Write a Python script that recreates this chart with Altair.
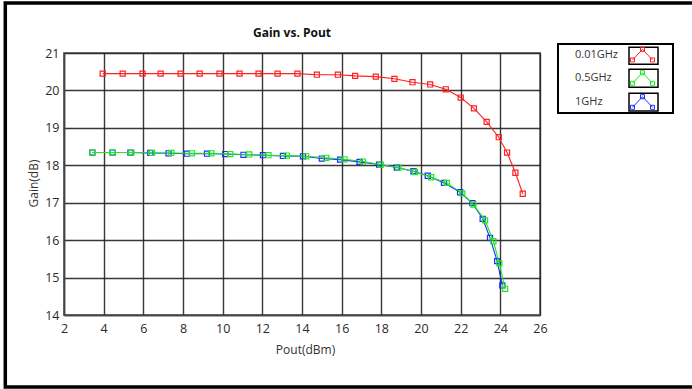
import altair as alt
import pandas as pd

# Series definitions
series_names = ["0.01GHz", "0.5GHz", "1GHz"]
series_colors = ["#ff2020", "#22e622", "#1a2eff"]

# 0.01 GHz sweep: output power (dBm) and gain (dB)
pout_001 = [3.95, 4.96, 5.96, 6.87, 7.88, 8.84, 9.84, 10.85, 11.81, 12.77, 13.77,
            14.75, 15.81, 16.68, 17.72, 18.66, 19.57, 20.46, 21.25, 22.00, 22.67,
            23.31, 23.92, 24.34, 24.76, 25.13]
gain_001 = [20.45, 20.45, 20.45, 20.45, 20.45, 20.45, 20.45, 20.45, 20.45, 20.45, 20.45,
            20.42, 20.42, 20.39, 20.37, 20.31, 20.22, 20.16, 20.03, 19.81, 19.52,
            19.16, 18.75, 18.34, 17.80, 17.24]

# 0.5 GHz sweep
pout_05 = [3.43, 4.45, 5.40, 6.44, 7.41, 8.45, 9.43, 10.38, 11.34, 12.31, 13.24,
           14.21, 15.22, 16.14, 17.07, 17.97, 18.86, 19.70, 20.51, 21.30, 22.08,
           22.64, 23.23, 23.65, 23.95, 24.24]
gain_05 = [18.34, 18.34, 18.34, 18.33, 18.33, 18.32, 18.32, 18.30, 18.29, 18.27, 18.26,
           18.24, 18.20, 18.16, 18.10, 18.02, 17.94, 17.82, 17.68, 17.53, 17.25,
           16.95, 16.53, 15.97, 15.38, 14.70]

# 1 GHz sweep
pout_1 = [3.43, 4.45, 5.35, 6.35, 7.27, 8.20, 9.21, 10.13, 11.05, 12.03, 13.04,
          14.05, 15.00, 15.92, 16.90, 17.89, 18.78, 19.62, 20.34, 21.16, 21.97,
          22.59, 23.11, 23.48, 23.84, 24.10]
gain_1 = [18.34, 18.34, 18.34, 18.33, 18.32, 18.31, 18.31, 18.30, 18.28, 18.27, 18.25,
          18.24, 18.18, 18.15, 18.09, 18.02, 17.94, 17.84, 17.72, 17.53, 17.28,
          16.99, 16.57, 16.06, 15.44, 14.79]

x_ticks = [2, 4, 6, 8, 10, 12, 14, 16, 18, 20, 22, 24, 26]
y_ticks = [14, 15, 16, 17, 18, 19, 20, 21]

rows = []
for name, xs, ys in [("0.01GHz", pout_001, gain_001),
                     ("0.5GHz", pout_05, gain_05),
                     ("1GHz", pout_1, gain_1)]:
    for i, (xv, yv) in enumerate(zip(xs, ys)):
        rows.append({"series": name, "idx": i, "pout": xv, "gain": yv})
df = pd.DataFrame(rows)
legend_df = pd.DataFrame({"series": series_names})
one = pd.DataFrame({"k": [0]})

W, H = 476, 262
FONT = "Open Sans"

color = alt.Color("series:N",
                  scale=alt.Scale(domain=series_names, range=series_colors),
                  legend=None)

x_axis = alt.Axis(values=x_ticks, title="Pout(dBm)", format="d",
                  labelOverlap=False, labelFlush=False,
                  titleX=241, titleY=34, titleBaseline="middle",
                  titleAlign="center", labelPadding=7)
y_axis = alt.Axis(values=y_ticks, title="Gain(dB)", format="d",
                  labelOverlap=False, labelFlush=False,
                  titleX=-31, titleY=130, titleBaseline="middle",
                  titleAlign="center", titleAngle=-90, labelPadding=5)
x_enc = alt.X("pout:Q", scale=alt.Scale(domain=[2, 26], nice=False, zero=False),
              axis=x_axis)
y_enc = alt.Y("gain:Q", scale=alt.Scale(domain=[14, 21], nice=False, zero=False),
              axis=y_axis)

layers = []
# Curves, drawn red first, then blue, then green on top
for name in ["0.01GHz", "1GHz", "0.5GHz"]:
    base = alt.Chart(df).transform_filter(alt.datum.series == name)
    line = base.mark_line(strokeWidth=1.1).encode(
        x=x_enc, y=y_enc, color=color, order="idx:Q")
    pts = base.mark_point(shape="square", filled=False, size=26,
                          strokeWidth=1.2, opacity=1).encode(
        x=x_enc, y=y_enc, color=color)
    layers += [line, pts]

# Chart title
title = alt.Chart(one).mark_text(
    text="Gain vs. Pout", font=FONT, fontSize=12, fontWeight="bold",
    color="#111111", align="center", baseline="middle").encode(
    x=alt.value(228), y=alt.value(-20))
layers.append(title)

# Legend frame
legend_box = alt.Chart(one).mark_rect(
    fill="white", stroke="black", strokeWidth=2).encode(
    x=alt.value(494), x2=alt.value(609), y=alt.value(-9), y2=alt.value(60))
layers.append(legend_box)

# Legend glyph: chevron with square markers at its vertices
glyph = ("M-1,0.53L0,-0.53L1,0.53"
         "M-1.2,0.33L-0.8,0.33L-0.8,0.73L-1.2,0.73Z"
         "M-0.2,-0.73L0.2,-0.73L0.2,-0.33L-0.2,-0.33Z"
         "M0.8,0.33L1.2,0.33L1.2,0.73L0.8,0.73Z")
row_text_y = [2, 25.3, 48.7]
row_box_y = [(-5.7, 11.3), (16.3, 34.3), (40.3, 58)]
row_glyph_y = [1.65, 25, 49]
for i, name in enumerate(series_names):
    ld = alt.Chart(legend_df).transform_filter(alt.datum.series == name)
    layers.append(ld.mark_text(font=FONT, fontSize=11, color="#333333",
                               align="left", baseline="middle").encode(
        x=alt.value(511), y=alt.value(row_text_y[i]), text="series:N"))
    layers.append(ld.mark_rect(fill="white", stroke="black", strokeWidth=1.5).encode(
        x=alt.value(565), x2=alt.value(594),
        y=alt.value(row_box_y[i][0]), y2=alt.value(row_box_y[i][1])))
    layers.append(ld.mark_point(shape=glyph, filled=False, size=400,
                                strokeWidth=1, opacity=1).encode(
        x=alt.value(578.5), y=alt.value(row_glyph_y[i]), color=color))

# Outer frame around the figure
frame = alt.Chart(one).mark_rect(
    fillOpacity=0, stroke="black", strokeWidth=3.5).encode(
    x=alt.value(-58.7), x2=alt.value(700), y=alt.value(-50), y2=alt.value(334))
layers.append(frame)

chart = alt.layer(*layers).properties(
    width=W, height=H,
    padding={"left": 64, "top": 53, "right": 152, "bottom": 74},
    autosize=alt.AutoSizeParams(type="none"),
    background="white",
).configure_view(
    stroke="#808080", strokeWidth=2, fill="white"
).configure_axis(
    labelFont=FONT, labelFontSize=12.5, labelColor="#2b2b2b",
    titleFont=FONT, titleFontSize=12, titleColor="#333333", titleFontWeight="normal",
    grid=True, gridColor="#222222", gridWidth=1.4, gridOpacity=0.9,
    domainColor="#444444", domainWidth=1.5,
    ticks=False, tickSize=0,
)

chart.save("out.html", embed_options={"renderer": "svg", "actions": False})
